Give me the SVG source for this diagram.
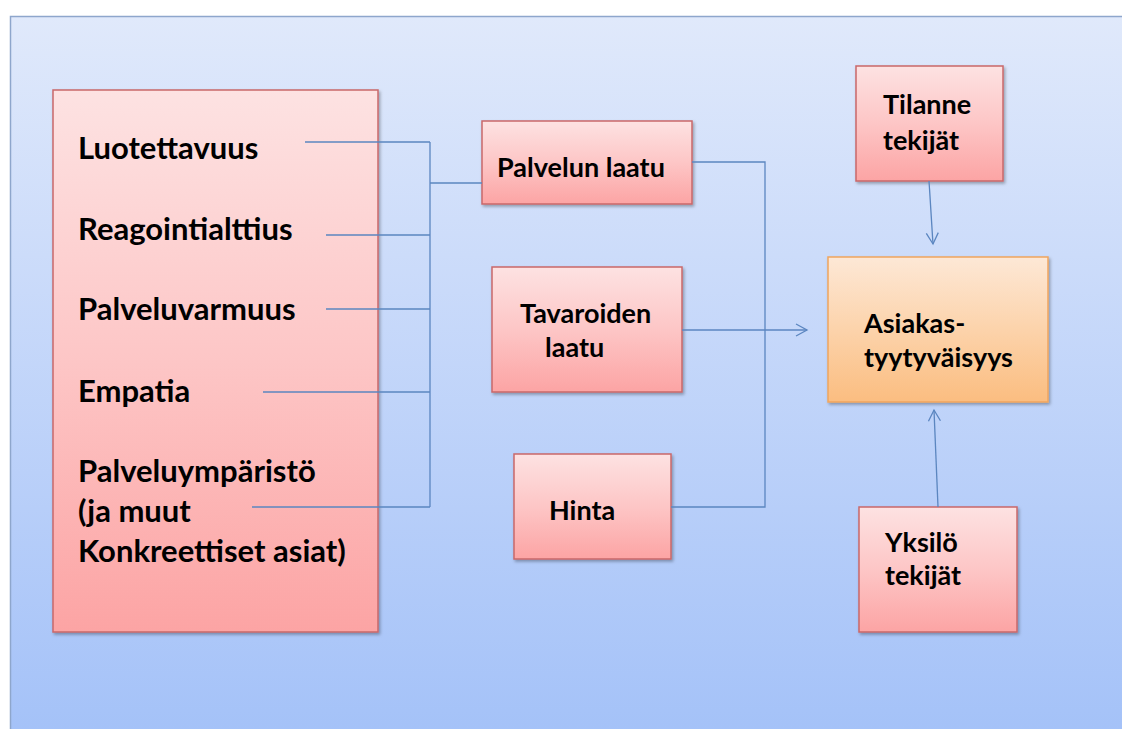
<svg xmlns="http://www.w3.org/2000/svg" width="1122" height="729" viewBox="0 0 1122 729">
  <defs>
    <linearGradient id="bg" x1="0" y1="0" x2="0" y2="1">
      <stop offset="0" stop-color="#e0e9fb"/>
      <stop offset="1" stop-color="#a3c1f8"/>
    </linearGradient>
    <linearGradient id="pink" x1="0" y1="0" x2="0" y2="1">
      <stop offset="0" stop-color="#fde2e2"/>
      <stop offset="0.5" stop-color="#fdc6c6"/>
      <stop offset="1" stop-color="#fca4a4"/>
    </linearGradient>
    <linearGradient id="orange" x1="0" y1="0" x2="0" y2="1">
      <stop offset="0" stop-color="#fde8d6"/>
      <stop offset="0.5" stop-color="#fcd3ab"/>
      <stop offset="1" stop-color="#fbbd80"/>
    </linearGradient>
    <filter id="shadow" x="-10%" y="-10%" width="130%" height="130%">
      <feDropShadow dx="1.5" dy="2" stdDeviation="1.5" flood-color="#000" flood-opacity="0.3"/>
    </filter>
    <marker id="open" markerUnits="userSpaceOnUse" markerWidth="16" markerHeight="16" refX="12" refY="7" orient="auto">
      <path d="M1,1 L12,7 L1,13" fill="none" stroke="#5b86c0" stroke-width="1.3"/>
    </marker>
  </defs>
  <style>
    .box { fill: url(#pink); stroke: #c9686a; stroke-width: 1.5; filter: url(#shadow); }
    .goal { fill: url(#orange); stroke: #f0a55e; stroke-width: 1.5; filter: url(#shadow); }
    .big { font-family: Lato, "Liberation Sans", sans-serif; font-weight: bold; font-size: 31px; fill: #000; }
    .lbl { font-family: Lato, "Liberation Sans", sans-serif; font-weight: bold; font-size: 27px; fill: #000; }
    .wire { fill: none; stroke: #5b86c0; stroke-width: 1.3; }
  </style>

  <!-- backdrop panel -->
  <rect x="0" y="0" width="1122" height="729" fill="#ffffff"/>
  <rect x="10.5" y="16.5" width="1130" height="730" fill="url(#bg)" stroke="#8ea6cc" stroke-width="1.5"/>

  <!-- service quality dimensions -->
  <g id="dimensions">
    <rect class="box" x="53" y="90" width="325" height="542"/>
    <text class="big" x="78" y="159">Luotettavuus</text>
    <text class="big" x="78" y="240">Reagointialttius</text>
    <text class="big" x="78" y="320">Palveluvarmuus</text>
    <text class="big" x="78" y="402">Empatia</text>
    <text class="big" x="78" y="482">Palveluympäristö</text>
    <text class="big" x="78" y="522">(ja muut</text>
    <text class="big" x="78" y="562">Konkreettiset asiat)</text>
  </g>

  <g id="palvelun-laatu">
    <rect class="box" x="482" y="121" width="210" height="83"/>
    <text class="lbl" x="497" y="177">Palvelun laatu</text>
  </g>

  <g id="tavaroiden-laatu">
    <rect class="box" x="492" y="267" width="190" height="125"/>
    <text class="lbl" x="520" y="323">Tavaroiden</text>
    <text class="lbl" x="545" y="357">laatu</text>
  </g>

  <g id="hinta">
    <rect class="box" x="514" y="454" width="157" height="105"/>
    <text class="lbl" x="549" y="520">Hinta</text>
  </g>

  <g id="tilanne-tekijat">
    <rect class="box" x="856" y="66" width="147" height="115"/>
    <text class="lbl" x="883" y="114">Tilanne</text>
    <text class="lbl" x="883" y="150">tekijät</text>
  </g>

  <g id="asiakastyytyvaisyys">
    <rect class="goal" x="828" y="257" width="220" height="145"/>
    <text class="lbl" x="864" y="333">Asiakas-</text>
    <text class="lbl" x="864" y="367">tyytyväisyys</text>
  </g>

  <g id="yksilo-tekijat">
    <rect class="box" x="859" y="507" width="158" height="125"/>
    <text class="lbl" x="885" y="552">Yksilö</text>
    <text class="lbl" x="885" y="585">tekijät</text>
  </g>

  <!-- connectors -->
  <g id="connectors">
    <path class="wire" d="M305,142 H430 M326,235 H430 M326,309 H430 M263,392 H430 M252,507 H430 M430,142 V507 M430,183 H482"/>
    <path class="wire" d="M692,162 H765 V507 H671"/>
    <path class="wire" d="M682,330 H807" marker-end="url(#open)"/>
    <path class="wire" d="M929,181 L933,244" marker-end="url(#open)"/>
    <path class="wire" d="M938,507 L934,410" marker-end="url(#open)"/>
  </g>
</svg>
